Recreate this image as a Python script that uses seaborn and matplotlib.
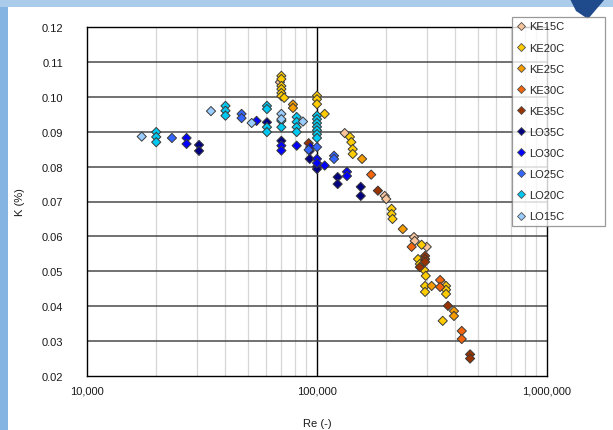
import numpy as np
import pandas as pd
import matplotlib
matplotlib.use("Agg")
import matplotlib.pyplot as plt
from matplotlib.lines import Line2D
from matplotlib.patches import Rectangle, Polygon
from matplotlib.ticker import FixedLocator, FuncFormatter, NullFormatter
import seaborn as sns

# ---- measured data: Reynolds number vs. K (%) per fluid / temperature ----
series = ["KE15C", "KE20C", "KE25C", "KE30C", "KE35C",
          "LO35C", "LO30C", "LO25C", "LO20C", "LO15C"]

ke15_re = [69000, 132000, 197000, 200000, 264000, 266000, 300000, 353000]
ke15_k = [0.1042, 0.0896, 0.0716, 0.0707, 0.0598, 0.0587, 0.0570, 0.0464]

ke20_re = [70000, 70000, 70000, 70000, 70000, 70000, 72000, 100000, 100000,
           100000, 108000, 139000, 141000, 143000, 143000, 211000, 211000,
           213000, 285000, 275000, 280000, 292000, 297000, 295000, 295000,
           364000, 364000, 364000, 352000]
ke20_k = [0.1060, 0.1051, 0.1031, 0.1022, 0.1011, 0.1002, 0.0997, 0.1003,
          0.0993, 0.0979, 0.0951, 0.0885, 0.0870, 0.0850, 0.0836, 0.0679,
          0.0664, 0.0650, 0.0576, 0.0535, 0.0521, 0.0504, 0.0487, 0.0458,
          0.0441, 0.0458, 0.0447, 0.0435, 0.0358]

ke25_re = [78600, 78600, 157000, 236000, 315000, 394000, 394000]
ke25_k = [0.0978, 0.0968, 0.0822, 0.0621, 0.0458, 0.0386, 0.0372]

ke30_re = [172000, 258000, 343000, 343000, 426000, 426000]
ke30_k = [0.0777, 0.0570, 0.0475, 0.0455, 0.0329, 0.0306]

ke35_re = [92000, 184000, 295000, 295000, 295000, 280000, 371000, 463000, 463000]
ke35_k = [0.0867, 0.0731, 0.0544, 0.0535, 0.0527, 0.0512, 0.0401, 0.0262, 0.0250]

lo35_re = [30700, 30700, 60600, 70000, 93000, 93000, 100000, 100000,
           123000, 123000, 155000, 155000]
lo35_k = [0.0862, 0.0845, 0.0927, 0.0874, 0.0845, 0.0822, 0.0800, 0.0793,
          0.0770, 0.0750, 0.0742, 0.0716]

lo30_re = [27100, 27100, 54600, 70000, 70000, 81600, 93500, 100000, 100000,
           108000, 135000, 135000]
lo30_k = [0.0882, 0.0865, 0.0931, 0.0860, 0.0846, 0.0860, 0.0856, 0.0822,
          0.0810, 0.0803, 0.0785, 0.0773]

lo25_re = [23400, 47000, 47000, 92000, 100000, 118600, 118600]
lo25_k = [0.0882, 0.0951, 0.0939, 0.0848, 0.0856, 0.0831, 0.0822]

lo20_re = [20000, 20000, 20000, 40000, 40000, 40000, 60600, 60600, 60600,
           60600, 70000, 70000, 81600, 81600, 81600, 81600, 100000, 100000,
           100000, 100000, 100000, 100000, 100000]
lo20_k = [0.0899, 0.0885, 0.0870, 0.0974, 0.0960, 0.0946, 0.0974, 0.0965,
          0.0913, 0.0899, 0.0931, 0.0913, 0.0942, 0.0928, 0.0913, 0.0899,
          0.0946, 0.0936, 0.0925, 0.0914, 0.0904, 0.0893, 0.0882]

lo15_re = [17300, 34600, 52000, 70000, 70000, 86900]
lo15_k = [0.0886, 0.0959, 0.0925, 0.0951, 0.0936, 0.0929]

palette = {
    "KE15C": "#F8C49C", "KE20C": "#FFCC00", "KE25C": "#F59C00",
    "KE30C": "#F2650C", "KE35C": "#993300", "LO35C": "#000080",
    "LO30C": "#0000FF", "LO25C": "#3366FF", "LO20C": "#00C8F0",
    "LO15C": "#99CCFF",
}

all_re = [ke15_re, ke20_re, ke25_re, ke30_re, ke35_re,
          lo35_re, lo30_re, lo25_re, lo20_re, lo15_re]
all_k = [ke15_k, ke20_k, ke25_k, ke30_k, ke35_k,
         lo35_k, lo30_k, lo25_k, lo20_k, lo15_k]

df = pd.concat(
    [pd.DataFrame({"Re": r, "K": k, "series": name})
     for name, r, k in zip(series, all_re, all_k)],
    ignore_index=True,
)

y_ticks = [0.02, 0.03, 0.04, 0.05, 0.06, 0.07, 0.08, 0.09, 0.10, 0.11, 0.12]
x_ticks = [10000, 100000, 1000000]

# ---- figure ----
sns.set_theme(style="white")
plt.rcParams["font.family"] = ["Liberation Sans", "DejaVu Sans"]

W, H = 613, 431
fig = plt.figure(figsize=(W / 100, H / 100), dpi=100)
fig.patch.set_facecolor("white")

ax = fig.add_axes([87 / W, 1 - 377 / H, 460 / W, 349 / H])
ax.set_facecolor("white")

sns.scatterplot(data=df, x="Re", y="K", hue="series", palette=palette,
                hue_order=series, marker="D", s=22, edgecolor="#3a3a3a",
                linewidth=0.7, legend=False, ax=ax, zorder=5)

ax.set_xscale("log")
ax.set_xlim(1e4, 1e6)
ax.set_ylim(0.02, 0.12)

ax.xaxis.set_major_locator(FixedLocator(x_ticks))
ax.xaxis.set_major_formatter(FuncFormatter(lambda v, p: f"{int(round(v)):,}"))
minor = [m * d for d in (1e4, 1e5) for m in range(2, 10)]
ax.xaxis.set_minor_locator(FixedLocator(minor))
ax.xaxis.set_minor_formatter(NullFormatter())
ax.yaxis.set_major_locator(FixedLocator(y_ticks))
ax.yaxis.set_major_formatter(FuncFormatter(lambda v, p: f"{v:.2f}"))

ax.grid(False)
for v in minor:
    ax.axvline(v, color="#d6d6d6", lw=0.9, zorder=1)
ax.axvline(1e5, color="#000000", lw=1.0, zorder=2)
for v in y_ticks[1:-1]:
    ax.axhline(v, color="#4a4a4a", lw=1.1, zorder=2)

for sp in ax.spines.values():
    sp.set_color("black")
    sp.set_linewidth(1.0)

ax.tick_params(axis="both", which="both", length=0, labelsize=8,
               colors="#1a1a1a")
ax.tick_params(axis="y", pad=17)
ax.tick_params(axis="x", pad=7)

ax.set_xlabel("Re (-)", fontsize=8, color="#1a1a1a")
ax.set_ylabel("K (%)", fontsize=8, color="#1a1a1a")
ax.xaxis.set_label_coords(0.5, -0.12)
ax.yaxis.set_label_coords(-0.135, 0.5)

# ---- legend ----
handles = [Line2D([0], [0], marker="D", linestyle="none", markersize=4.2,
                  markerfacecolor=palette[n], markeredgecolor="#505050",
                  markeredgewidth=0.6) for n in series]
leg = fig.legend(handles, series, loc="upper left",
                 bbox_to_anchor=(512 / W, 1 - 18 / H, 93 / W, 0),
                 bbox_transform=fig.transFigure, mode="expand",
                 frameon=True, fancybox=False, fontsize=8,
                 handlelength=0.8, handletextpad=0.35, labelspacing=1.0,
                 borderpad=0.4, borderaxespad=0)
leg.get_frame().set_edgecolor("#808080")
leg.get_frame().set_linewidth(0.9)
leg.set_zorder(10)

# ---- slide frame decoration ----
fig.patches.append(Rectangle((0, 0), 8 / W, 1, transform=fig.transFigure,
                             facecolor="#86b4e2", edgecolor="none", zorder=0))
fig.patches.append(Rectangle((0, 1 - 8 / H), 1, 8 / H, transform=fig.transFigure,
                             facecolor="#aacbea", edgecolor="none", zorder=0))
fig.patches.append(Polygon([(570 / W, 1), (605 / W, 1), (588 / W, 1 - 20 / H),
                            (576 / W, 1 - 12 / H)], closed=True,
                           transform=fig.transFigure, facecolor="#1f4a8c",
                           edgecolor="none", zorder=0))

fig.savefig("out.png", dpi=100)
